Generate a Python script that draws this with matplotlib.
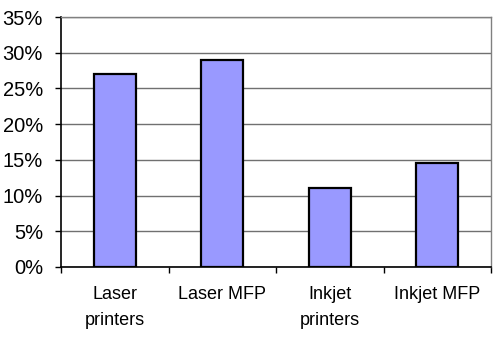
import numpy as np
import matplotlib.pyplot as plt
from matplotlib.ticker import FixedLocator, NullFormatter

# data
categories = ["Laser\nprinters", "Laser MFP", "Inkjet\nprinters", "Inkjet MFP"]
shares = [27, 29, 11, 14.5]
yticks = [0, 5, 10, 15, 20, 25, 30, 35]

plt.rcParams["font.family"] = ["Liberation Sans", "DejaVu Sans"]
plt.rcParams["font.size"] = 13

fig = plt.figure(figsize=(5, 3.37), dpi=100)
ax = fig.add_axes([61 / 500, 1 - 267 / 337, 430 / 500, 250 / 337])

x = np.arange(len(categories))
ax.bar(x, shares, width=0.39, color="#9999FF", edgecolor="black", linewidth=1.6, zorder=3)

ax.set_xlim(-0.5, len(categories) - 0.5)
ax.set_ylim(0, 35)
ax.set_yticks(yticks)
ax.set_yticklabels([f"{v}%" for v in yticks], fontsize=14.5)
ax.yaxis.grid(True, color="#707070", linewidth=1, zorder=0)

# category labels centred, ticks between categories
ax.set_xticks(x)
ax.set_xticklabels(categories, linespacing=1.65)
ax.tick_params(axis="x", which="major", length=0, pad=14)
ax.xaxis.set_minor_locator(FixedLocator(np.arange(-0.5, len(categories), 1.0)))
ax.xaxis.set_minor_formatter(NullFormatter())
ax.tick_params(axis="x", which="minor", length=4, width=1, direction="out")
ax.tick_params(axis="y", length=4, width=1, direction="out", pad=9)

for s in ["left", "bottom"]:
    ax.spines[s].set_color("black")
    ax.spines[s].set_linewidth(1.2)
for s in ["top", "right"]:
    ax.spines[s].set_color("#808080")
    ax.spines[s].set_linewidth(1)

fig.savefig("out.png", dpi=100)
